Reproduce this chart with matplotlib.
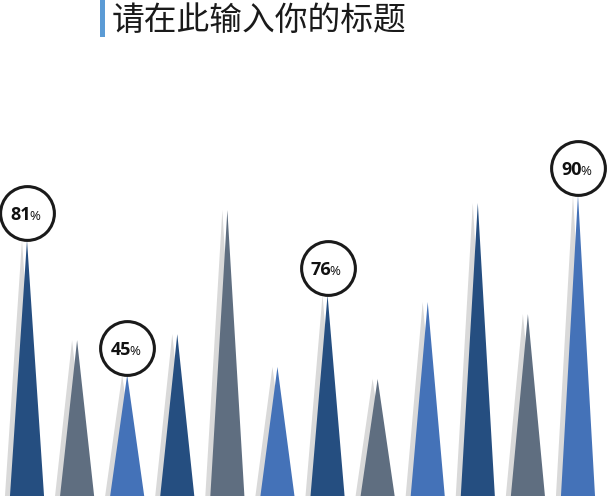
import matplotlib
matplotlib.use('Agg')
import matplotlib.pyplot as plt
from matplotlib.patches import Rectangle
from matplotlib.transforms import offset_copy

# data
title = '请在此输入你的标题'
values = [76.5, 46.6, 36.2, 48.4, 85.5, 38.6, 60.1, 35.0, 58.0, 87.6, 54.4, 90.0]
labelled = [0, 2, 6, 11]
labels = ['81', '45', '76', '90']

colors = ['#254e80', '#5f6e80', '#4472b8']
shadow = '#d9d9d9'

fig = plt.figure(figsize=(6.1, 4.96), dpi=100)
ax = fig.add_axes([0, 0, 1, 1])
ax.set_xlim(-0.539, 11.639)
ax.set_ylim(0, 148.3)
ax.axis('off')

half = 0.34   # half width of a spike, in x units
sh = 0.1      # shadow shift to the left

for i, v in enumerate(values):
    ax.fill([i - half - sh, i - sh, i + half - sh], [0, v, 0], color=shadow, lw=0, zorder=1)
    ax.fill([i - half, i, i + half], [0, v, 0], color=colors[i % 3], lw=0, zorder=2)

# circles sitting on top of some spikes
circ_tr = offset_copy(ax.transData, fig=fig, y=19.5, units='points')
num_tr = offset_copy(ax.transData, fig=fig, x=2.6, y=14.5, units='points')
pct_tr = offset_copy(ax.transData, fig=fig, x=1.6, y=14.5, units='points')
for i, lab in zip(labelled, labels):
    ax.scatter([i], [values[i]], s=1500, marker='o', facecolor='white',
               edgecolor='#1a1a1a', linewidth=2.2, transform=circ_tr, zorder=3)
    ax.text(i, values[i], lab, transform=num_tr, ha='right', va='baseline',
            fontsize=13, fontweight='bold', family='Open Sans', color='#111111', zorder=4)
    ax.text(i, values[i], '%', transform=pct_tr, ha='left', va='baseline',
            fontsize=9.5, family='Open Sans', color='#111111', zorder=4)

# title with a small blue bar
fig.add_artist(Rectangle((100 / 610, 1 - 37 / 496), 5 / 610, 37 / 496,
                         transform=fig.transFigure, color='#5b9bd5', lw=0))
fig.text(112 / 610, 1 - 21 / 496, title, ha='left', va='center', fontsize=23.6,
         family=['Noto Sans CJK SC', 'DejaVu Sans'], color='#1a1a1a')

fig.savefig('out.png', dpi=100)
